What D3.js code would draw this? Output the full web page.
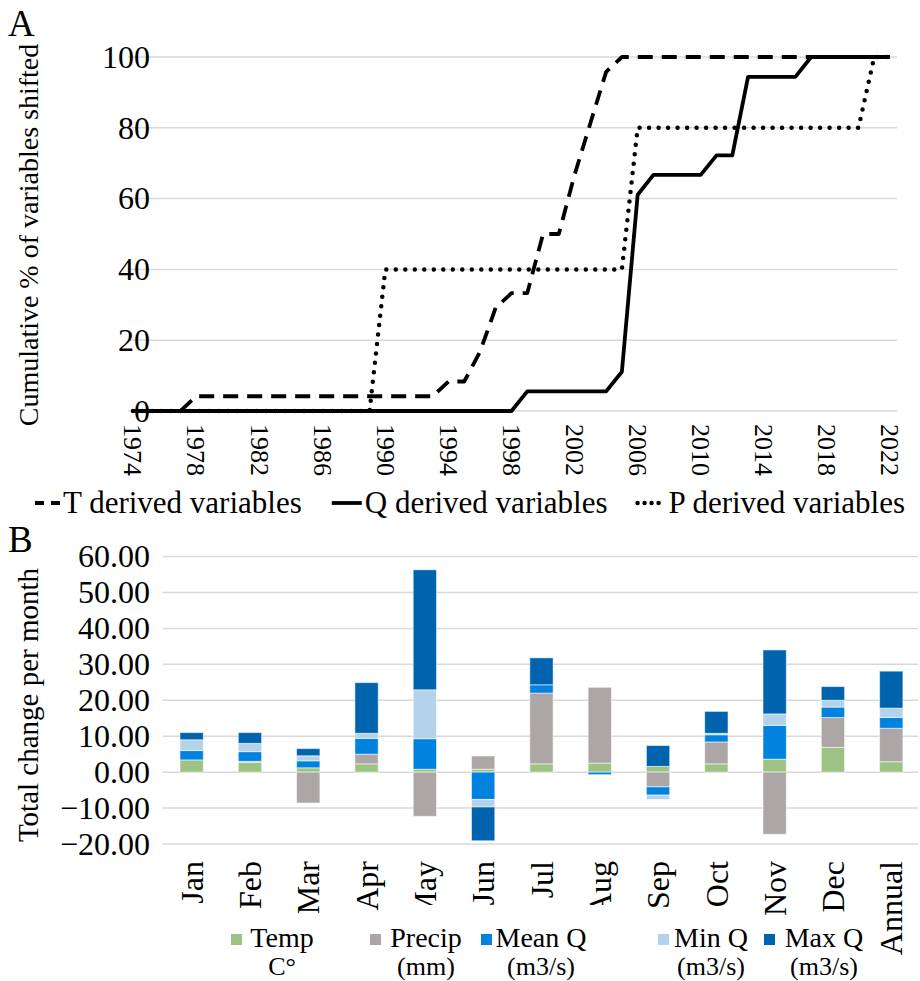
<!DOCTYPE html>
<html>
<head>
<meta charset="utf-8">
<script src="https://cdn.jsdelivr.net/npm/d3@7"></script>
<style>
  html, body { margin: 0; padding: 0; background: #fff; }
</style>
</head>
<body>
<svg id="chart" width="920" height="981"></svg>
<script>
// ---------- Panel A: cumulative share of shifted variables ----------
const years = d3.range(1974, 2023);
const yearTicks = d3.range(1974, 2023, 4);
const tDerived = [
  0, 0, 0, 0,
  4.17, 4.17, 4.17, 4.17, 4.17, 4.17, 4.17, 4.17, 4.17, 4.17, 4.17, 4.17, 4.17, 4.17, 4.17, 4.17,
  8.33, 8.33, 16.7, 29.2, 33.3, 33.3, 50, 50, 66.7, 81.3, 95.8,
  100, 100, 100, 100, 100, 100, 100, 100, 100, 100, 100, 100, 100, 100, 100, 100, 100, 100
];
const qDerived = [
  0, 0, 0, 0, 0, 0, 0, 0, 0, 0, 0, 0, 0, 0, 0, 0, 0, 0, 0, 0, 0, 0, 0, 0, 0,
  5.56, 5.56, 5.56, 5.56, 5.56, 5.56, 11.1, 61.1,
  66.7, 66.7, 66.7, 66.7, 72.2, 72.2, 94.4, 94.4, 94.4, 94.4,
  100, 100, 100, 100, 100, 100
];
const pDerived = [
  0, 0, 0, 0, 0, 0, 0, 0, 0, 0, 0, 0, 0, 0, 0, 0,
  40, 40, 40, 40, 40, 40, 40, 40, 40, 40, 40, 40, 40, 40, 40, 40,
  80, 80, 80, 80, 80, 80, 80, 80, 80, 80, 80, 80, 80, 80, 80,
  100, 100
];
const pctTicks = [0, 20, 40, 60, 80, 100];
const lineSeries = [
  { name: "T derived variables", values: tDerived, dash: "15,9", cap: "butt" },
  { name: "Q derived variables", values: qDerived, dash: null, cap: "butt" },
  { name: "P derived variables", values: pDerived, dash: "0,9.5", cap: "round" }
];

// ---------- Panel B: total change per month ----------
const months = ["Jan", "Feb", "Mar", "Apr", "May", "Jun", "Jul", "Aug", "Sep", "Oct", "Nov", "Dec", "Annual"];
const temp   = [3.4, 2.7, 1.2, 2.3, 0.8, 0.8, 2.3, 2.5, 1.6, 2.3, 3.6, 6.9, 2.9];
const precip = [0, 0.3, -8.6, 2.7, -12.3, 3.7, 19.7, 21.1, -4.1, 6.1, -17.3, 8.3, 9.3];
const meanQ  = [2.6, 2.7, 1.95, 4.4, 8.5, -7.6, 2.3, -0.7, -2.3, 2.0, 9.4, 2.9, 3.0];
const minQ   = [3.0, 2.3, 1.4, 1.4, 13.6, -2.1, 0, 0, -1.2, 0.4, 3.2, 1.9, 2.6];
const maxQ   = [2.0, 3.0, 2.0, 14.1, 33.4, -9.4, 7.5, 0, 5.8, 6.1, 17.8, 3.8, 10.3];
const changeTicks = [-20, -10, 0, 10, 20, 30, 40, 50, 60];
const barSeries = [
  { key: "temp",   values: temp,   label: ["Temp", "C°"],       color: "#9dc384" },
  { key: "precip", values: precip, label: ["Precip", "(mm)"],   color: "#aca7a6" },
  { key: "meanQ",  values: meanQ,  label: ["Mean Q", "(m3/s)"], color: "#0083de" },
  { key: "minQ",   values: minQ,   label: ["Min Q", "(m3/s)"],  color: "#b5d2eb" },
  { key: "maxQ",   values: maxQ,   label: ["Max Q", "(m3/s)"],  color: "#0063ae" }
];

const FONT = "'Liberation Serif', Tinos, 'Times New Roman', 'DejaVu Serif', 'Noto Serif', serif";
const svg = d3.select("#chart").attr("font-family", FONT).style("font-family", FONT);
const gridColor = "#d9d9d9";

// ================= Panel A =================
const xA = d3.scalePoint().domain(years).range([133, 890]);
const yA = d3.scaleLinear().domain([0, 100]).range([411, 57]);

svg.append("text").attr("x", 8).attr("y", 36).attr("font-size", 37).text("A");

svg.append("g").selectAll("line").data(pctTicks).join("line")
  .attr("x1", 128).attr("x2", 897)
  .attr("y1", d => yA(d)).attr("y2", d => yA(d))
  .attr("stroke", gridColor).attr("stroke-width", 1.5);

const axA = svg.append("g").attr("transform", "translate(153,0)")
  .call(d3.axisLeft(yA).tickValues(pctTicks).tickSize(0).tickPadding(3));
axA.attr("font-family", null).attr("font-size", null);
axA.select(".domain").remove();
axA.selectAll("text").attr("font-size", 32).attr("fill", "#000");

const axAx = svg.append("g").attr("transform", `translate(0,${yA(0)})`)
  .call(d3.axisBottom(xA).tickValues(yearTicks).tickSize(0));
axAx.attr("font-family", null).attr("font-size", null);
axAx.select(".domain").remove();
axAx.selectAll("text")
  .attr("font-size", 26).attr("fill", "#000")
  .attr("transform", "rotate(90)")
  .attr("x", 13).attr("y", 0).attr("dy", "0.35em")
  .attr("text-anchor", "start");

svg.append("text")
  .attr("transform", "translate(38,235) rotate(-90)")
  .attr("text-anchor", "middle").attr("font-size", 28)
  .text("Cumulative % of variables shifted");

const lineGen = d3.line().x((d, i) => xA(years[i])).y(d => yA(d));
svg.append("g").selectAll("path").data(lineSeries).join("path")
  .attr("d", s => lineGen(s.values))
  .attr("fill", "none").attr("stroke", "#000")
  .attr("stroke-width", s => s.cap === "round" ? 4.5 : 3.8)
  .attr("stroke-dasharray", s => s.dash)
  .attr("stroke-linecap", s => s.cap)
  .attr("stroke-linejoin", "round");

// legend A: symbol + label, laid out in one row from x=35 to x=905
const legAg = svg.append("g").attr("transform", "translate(0,503)");
const symW = [25, 30, 28], symGap = 3, legLeft = 35, legRight = 905;
const legAText = legAg.selectAll("text").data(lineSeries).join("text")
  .attr("y", 0).attr("dy", "0.32em").attr("font-size", 31).text(d => d.name);
const textW = legAText.nodes().map(n => n.getComputedTextLength());
const used = d3.sum(textW) + d3.sum(symW) + symGap * 3;
const between = (legRight - legLeft - used) / 2;
let cursor = legLeft;
const legAPos = lineSeries.map((s, i) => {
  const p = { x0: cursor, x1: cursor + symW[i], tx: cursor + symW[i] + symGap };
  cursor = p.tx + textW[i] + between;
  return p;
});
legAText.attr("x", (d, i) => legAPos[i].tx);
legAg.selectAll("line").data(lineSeries).join("line")
  .attr("x1", (d, i) => legAPos[i].x0).attr("x2", (d, i) => legAPos[i].x1)
  .attr("y1", 0).attr("y2", 0)
  .attr("stroke", "#000")
  .attr("stroke-width", d => d.cap === "round" ? 4.5 : 3.8)
  .attr("stroke-dasharray", d => d.dash === null ? null : (d.cap === "round" ? "0,7" : "9,7"))
  .attr("stroke-linecap", d => d.cap);

// ================= Panel B =================
const xB = d3.scaleBand().domain(months).range([162.5, 920.4]).paddingInner(0.6).paddingOuter(0.3);
const yB = d3.scaleLinear().domain([-20, 60]).range([844, 556.5]);

svg.append("text").attr("x", 8).attr("y", 552).attr("font-size", 37).text("B");

svg.append("g").selectAll("line").data(changeTicks).join("line")
  .attr("x1", 162.5).attr("x2", 918)
  .attr("y1", d => yB(d)).attr("y2", d => yB(d))
  .attr("stroke", gridColor).attr("stroke-width", 1.5);

const axB = svg.append("g").attr("transform", "translate(153,0)")
  .call(d3.axisLeft(yB).tickValues(changeTicks).tickFormat(d3.format(".2f")).tickSize(0).tickPadding(3));
axB.attr("font-family", null).attr("font-size", null);
axB.select(".domain").remove();
axB.selectAll("text").attr("font-size", 32).attr("fill", "#000");

svg.append("text")
  .attr("transform", "translate(38,705) rotate(-90)")
  .attr("text-anchor", "middle").attr("font-size", 29)
  .text("Total change per month");

const rows = months.map((m, i) => {
  const r = { month: m };
  barSeries.forEach(s => { r[s.key] = s.values[i]; });
  return r;
});
const stacked = d3.stack().keys(barSeries.map(s => s.key)).offset(d3.stackOffsetDiverging)(rows);

svg.append("g").selectAll("g").data(stacked).join("g")
  .attr("fill", (d, i) => barSeries[i].color)
  .selectAll("rect").data(d => d.filter(p => p[1] !== p[0])).join("rect")
  .attr("x", d => xB(d.data.month))
  .attr("width", xB.bandwidth())
  .attr("y", d => yB(Math.max(d[0], d[1])))
  .attr("height", d => Math.abs(yB(d[0]) - yB(d[1])))
  .attr("stroke", "#fff").attr("stroke-opacity", 0.55).attr("stroke-width", 1);

const axBx = svg.append("g").attr("transform", `translate(0,${yB(-20)})`)
  .call(d3.axisBottom(xB).tickSize(0));
axBx.attr("font-family", null).attr("font-size", null);
axBx.select(".domain").remove();
axBx.selectAll("text")
  .attr("font-size", 32).attr("fill", "#000")
  .attr("transform", "rotate(-90)")
  .attr("x", -17).attr("y", 0).attr("dy", "0.35em")
  .attr("text-anchor", "end");

// legend B (its white box sits over the bottoms of the longer month labels)
const legB = svg.append("g");
legB.append("rect").attr("x", 398).attr("y", 905).attr("width", 232).attr("height", 76).attr("fill", "#fff");
const legItems = [
  { s: barSeries[0], sq: 231, cx: 282 },
  { s: barSeries[1], sq: 370, cx: 426 },
  { s: barSeries[2], sq: 481, cx: 541 },
  { s: barSeries[3], sq: 658, cx: 711 },
  { s: barSeries[4], sq: 764, cx: 824 }
];
legB.selectAll("rect.sw").data(legItems).join("rect").attr("class", "sw")
  .attr("x", d => d.sq).attr("y", 934).attr("width", 11).attr("height", 11)
  .attr("fill", d => d.s.color);
legB.selectAll("text.l1").data(legItems).join("text").attr("class", "l1")
  .attr("text-anchor", "middle").attr("font-size", 28)
  .attr("x", d => d.cx).attr("y", 947).text(d => d.s.label[0]);
legB.selectAll("text.l2").data(legItems).join("text").attr("class", "l2")
  .attr("text-anchor", "middle").attr("font-size", 26)
  .attr("x", d => d.cx).attr("y", 975).text(d => d.s.label[1]);
</script>
</body>
</html>
